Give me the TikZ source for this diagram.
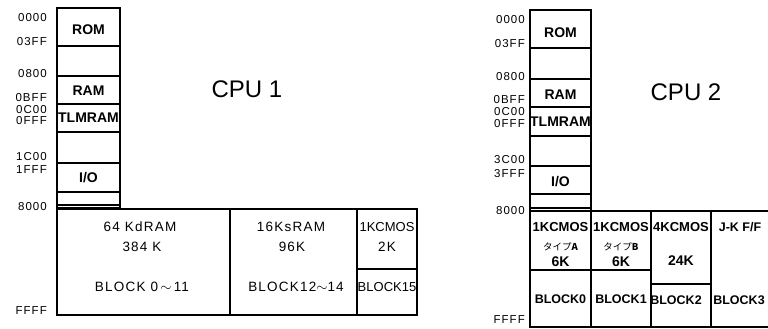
\documentclass[tikz,border=0pt]{standalone}
\usepackage{fontspec}
\setmainfont{Liberation Sans}
\newfontfamily\letfont[LetterSpace=9]{Liberation Sans}
\newfontfamily\cjk{Noto Sans CJK JP}
\tikzset{
  mapline/.style  = {line width=1.4pt, line cap=rect},
  addrlbl/.style  = {anchor=east, inner sep=0pt, font=\letfont\fontsize{11.5}{11.5}\selectfont},
  areaname/.style = {inner sep=0pt, font=\bfseries\fontsize{14}{14}\selectfont},
  blockname/.style= {inner sep=0pt, font=\letfont\fontsize{13.5}{13.5}\selectfont},
  kananame/.style = {inner sep=0pt, font=\cjk\fontsize{9.5}{9.5}\selectfont},
  cputitle/.style = {inner sep=0pt, font=\fontsize{24}{24}\selectfont}
}

\begin{document}
\begin{tikzpicture}[x=1pt,y=-1pt]
  \useasboundingbox (0,0) rectangle (768,329);

  % ---- CPU 1 ----
  \draw[mapline] (57,8) rectangle (120,208);
  \foreach \y in {46,76,104,132,163,192,205}
    \draw[mapline] (57,\y) -- (120,\y);
  \draw[mapline] (57,209) rectangle (417,315);
  \draw[mapline] (230,209) -- (230,315);
  \draw[mapline] (357,209) -- (357,315);
  \draw[mapline] (357,269) -- (417,269);
  \foreach \y/\lab [count=\i] in {18/0000, 42/03FF, 74/0800, 98/0BFF, 110/0C00,
                                   121/0FFF, 157/1C00, 170/1FFF, 207/8000, 311/FFFF}
    \node[addrlbl] (ad1-\i) at (47,\y) {\lab};
  \node[areaname] (rom1) at (88.5,30) {ROM};
  \node[areaname] (ram1) at (88.5,91) {RAM};
  \node[areaname] (tlm1) at (88.5,118) {TLMRAM};
  \node[areaname] (io1)  at (88.5,178) {I/O};
  \node[cputitle] (cpu1) at (247,89) {CPU 1};
  \node[blockname] (dram)   at (140,227) {64 KdRAM};
  \node[blockname] (dramk)  at (142,247) {384 K};
  \node[blockname] (dramb)  at (142,287) {BLOCK 0\,$\sim$\,11};
  \node[blockname] (sram)   at (291,227) {16KsRAM};
  \node[blockname] (sramk)  at (292,247) {96K};
  \node[blockname] (sramb)  at (296,287) {BLOCK12$\sim$14};
  \node[blockname,font=\fontsize{13}{13}\selectfont] (cmos1)  at (387,227) {1KCMOS};
  \node[blockname] (cmos1k) at (387,247) {2K};
  \node[blockname,font=\fontsize{13}{13}\selectfont] (cmos1b) at (387,287) {BLOCK15};

  % ---- CPU 2 ----
  \draw[mapline] (530,10) rectangle (591,211);
  \foreach \y in {48,79,107,136,166,194,208}
    \draw[mapline] (530,\y) -- (591,\y);
  \draw[mapline] (768,211) -- (530,211) -- (530,327) -- (768,327);
  \foreach \x in {591,651,711}
    \draw[mapline] (\x,211) -- (\x,327);
  \draw[mapline] (530,270) -- (651,270);
  \draw[mapline] (651,284) -- (711,284);
  \foreach \y/\lab [count=\i] in {20/0000, 44/03FF, 77/0800, 100/0BFF, 112/0C00,
                                   124/0FFF, 160/3C00, 174/3FFF, 211/8000, 320/FFFF}
    \node[addrlbl] (ad2-\i) at (525,\y) {\lab};
  \node[areaname] (rom2) at (560.5,33) {ROM};
  \node[areaname] (ram2) at (560.5,95) {RAM};
  \node[areaname] (tlm2) at (560.5,122) {TLMRAM};
  \node[areaname] (io2)  at (560.5,182) {I/O};
  \node[cputitle] (cpu2) at (686,92) {CPU 2};
  \foreach \x/\tp/\blk [count=\i] in {560.5/A/0, 621/B/1}
  { \node[areaname,font=\bfseries\fontsize{13}{13}\selectfont] (kc-\i)  at (\x,227) {1KCMOS};
    \node[kananame] (typ-\i) at (\x,247) {タイプ\textbf{\tp}};
    \node[areaname] (kk-\i)  at (\x,262) {6K};
    \node[areaname,font=\bfseries\fontsize{12.5}{12.5}\selectfont] (bk-\i)  at (\x,299) {BLOCK\blk}; }
  \node[areaname,font=\bfseries\fontsize{13}{13}\selectfont] (kc-3) at (681,227) {4KCMOS};
  \node[areaname] (kk-3) at (681,261) {24K};
  \node[areaname,font=\bfseries\fontsize{12.5}{12.5}\selectfont] (bk-3) at (676,300) {BLOCK2};
  \node[areaname,font=\bfseries\fontsize{12.5}{12.5}\selectfont] (jk)  at (740,227) {J-K F/F};
  \node[areaname,font=\bfseries\fontsize{12.5}{12.5}\selectfont] (bk-4) at (739,300) {BLOCK3};
\end{tikzpicture}
\end{document}
